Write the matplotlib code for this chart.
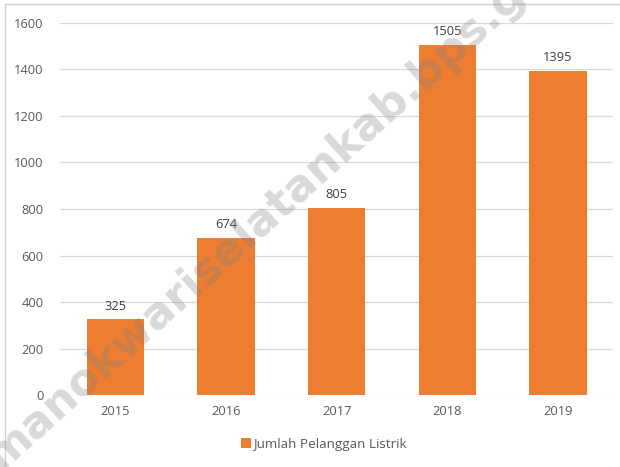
import matplotlib.pyplot as plt
import matplotlib.patches as patches

# data
years = ['2015', '2016', '2017', '2018', '2019']
pelanggan = [325, 674, 805, 1505, 1395]
yticks = [0, 200, 400, 600, 800, 1000, 1200, 1400, 1600]

bar_color = '#ED7D31'
text_color = '#595959'

plt.rcParams['font.family'] = ['Open Sans', 'DejaVu Sans']

fig = plt.figure(figsize=(6.2, 4.67), dpi=100)
ax = fig.add_axes([0.097, 0.154, 0.892, 0.797])

bars = ax.bar(years, pelanggan, width=0.52, color=bar_color, zorder=3,
              label='Jumlah Pelanggan Listrik')
for b, v in zip(bars, pelanggan):
    ax.text(b.get_x() + b.get_width() / 2, v + 30, str(v), ha='center',
            va='bottom', fontsize=9.3, color='#404040')

ax.set_ylim(0, 1600)
ax.set_xlim(-0.5, 4.5)
ax.set_yticks(yticks)
ax.grid(axis='y', color='#D9D9D9', linewidth=0.9, zorder=0)
for s in ax.spines.values():
    s.set_visible(False)
ax.tick_params(axis='both', length=0, labelsize=9.3, labelcolor=text_color)
ax.tick_params(axis='y', pad=12)
ax.tick_params(axis='x', pad=7)

fig.legend(handles=[bars], labels=['Jumlah Pelanggan Listrik'],
           loc='center', bbox_to_anchor=(0.523, 0.049), frameon=False,
           fontsize=9.7, handlelength=0.75, handleheight=0.75,
           handletextpad=0.15, labelcolor=text_color)

# outer frame
fig.patches.append(patches.Rectangle((5 / 620, -0.02), 1.0, 1 - 4 / 467 + 0.02,
                                     transform=fig.transFigure, fill=False,
                                     edgecolor='#D0D0D0', linewidth=1.0))

# watermark
fig.text(0.0, -0.01, 'manokwariselatankab.bps.go.id', rotation=42,
         rotation_mode='anchor', ha='left', va='baseline', fontsize=32,
         fontweight='bold', color='#808080', alpha=0.3,
         family='DejaVu Sans', zorder=10)

fig.savefig('out.png', dpi=100)
